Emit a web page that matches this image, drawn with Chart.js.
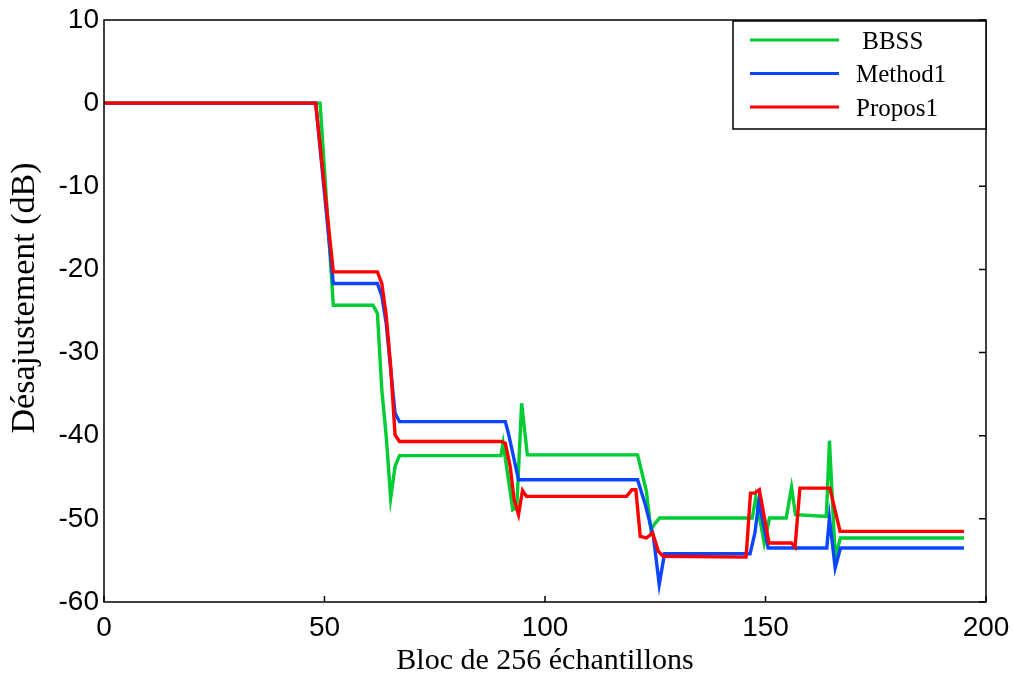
<!DOCTYPE html>
<html>
<head>
    <meta charset="utf-8">
    <title>Désajustement par bloc</title>
    <script src="https://cdn.jsdelivr.net/npm/chart.js"></script>
    <style>
        body { margin: 0; background: #fff; }
        #wrap { width: 1014px; height: 675px; }
    </style>
</head>
<body>
    <div id="wrap"><canvas id="misalignChart"></canvas></div>

    <script>
        // Block index (x) and misalignment in dB (y) for each method
        const bbssX = [0, 49, 52, 61, 62, 63, 64, 65, 66, 67, 90, 90.5, 92.7, 93.6, 94.7, 96, 121, 123, 124, 125, 126, 147, 147.8, 149.7, 150.9, 154.7, 155.9, 156.8, 163.8, 164.5, 165.8, 167, 195];
        const bbssY = [0, 0, -24.3, -24.3, -25.3, -34.5, -40.1, -47.5, -43.7, -42.4, -42.4, -40.9, -48.9, -48.6, -36.1, -42.3, -42.3, -46.7, -51.3, -50.5, -49.9, -49.9, -47.4, -52.9, -49.9, -49.9, -46.2, -49.5, -49.7, -40.6, -54.5, -52.3, -52.3];

        const method1X = [0, 48, 52, 62, 63, 64, 65, 66, 67, 91, 91.7, 94, 121, 122.7, 124.6, 125.9, 127.1, 146.5, 147.6, 148.5, 150.6, 163.9, 164.5, 165.8, 167, 195];
        const method1Y = [0, 0, -21.7, -21.7, -23.2, -26.5, -32, -37.3, -38.3, -38.3, -39.7, -45.3, -45.3, -48.2, -52.2, -57.9, -54.2, -54.2, -51.7, -47.9, -53.5, -53.5, -49.9, -55.9, -53.5, -53.5];

        const proposX = [0, 48, 52, 62, 63, 64, 65, 66, 67, 90, 91, 92.1, 93, 94, 94.9, 95.8, 118.5, 119.7, 120.6, 121.6, 123, 124.4, 125.7, 126.8, 145.6, 146.6, 147.6, 148.6, 150.8, 155.9, 156.7, 157.8, 164.6, 166.9, 195];
        const proposY = [0, 0, -20.3, -20.3, -21.7, -25.6, -31.6, -39.9, -40.7, -40.7, -40.9, -43.7, -47.7, -49.5, -46.6, -47.3, -47.3, -46.5, -46.5, -52.1, -52.3, -51.7, -53.9, -54.5, -54.6, -46.9, -46.9, -46.5, -52.9, -52.9, -53.4, -46.3, -46.3, -51.5, -51.5];

        const xTicks = [0, 50, 100, 150, 200];
        const yTicks = [10, 0, -10, -20, -30, -40, -50, -60];
        const yTitle = 'Désajustement (dB)';

        const toPoints = (xs, ys) => xs.map((v, i) => ({ x: v, y: ys[i] }));

        // Box frame, inward ticks, y title and the boxed legend in the top right corner
        const framePlugin = {
            id: 'frame',
            afterDatasetsDraw(chart) {
                const { ctx, chartArea: a, scales } = chart;
                ctx.save();
                ctx.strokeStyle = '#000';
                ctx.lineWidth = 1.5;
                ctx.strokeRect(a.left, a.top, a.right - a.left, a.bottom - a.top);

                ctx.beginPath();
                xTicks.forEach(v => {
                    const px = scales.x.getPixelForValue(v);
                    ctx.moveTo(px, a.bottom);
                    ctx.lineTo(px, a.bottom - 6);
                });
                yTicks.forEach(v => {
                    const py = scales.y.getPixelForValue(v);
                    ctx.moveTo(a.right, py);
                    ctx.lineTo(a.right - 7, py);
                });
                ctx.stroke();

                // rotated y axis title
                ctx.save();
                ctx.translate(25, 298);
                ctx.rotate(-Math.PI / 2);
                ctx.font = '34px "Liberation Serif", "Times New Roman", serif';
                ctx.textAlign = 'center';
                ctx.textBaseline = 'middle';
                ctx.fillStyle = '#000';
                ctx.fillText(yTitle, 0, 0);
                ctx.restore();

                // legend
                const boxW = 253, boxH = 108;
                const bx = a.right - boxW, by = a.top + 1;
                ctx.fillStyle = '#fff';
                ctx.fillRect(bx, by, boxW, boxH);
                ctx.lineWidth = 1.5;
                ctx.strokeStyle = '#000';
                ctx.strokeRect(bx, by, boxW, boxH);

                ctx.font = '25px "Liberation Serif", "Times New Roman", serif';
                ctx.textBaseline = 'middle';
                ctx.textAlign = 'left';
                chart.data.datasets.forEach((ds, i) => {
                    const rowY = by + 19 + i * 33.5;
                    ctx.strokeStyle = ds.borderColor;
                    ctx.lineWidth = 3.2;
                    ctx.beginPath();
                    ctx.moveTo(bx + 17, rowY);
                    ctx.lineTo(bx + 106, rowY);
                    ctx.stroke();
                    ctx.fillStyle = '#000';
                    ctx.fillText(ds.label, bx + 123, rowY + 2);
                });
                ctx.restore();
            }
        };

        const ctx = document.getElementById('misalignChart').getContext('2d');

        new Chart(ctx, {
            type: 'line',
            data: {
                datasets: [
                    {
                        label: ' BBSS',
                        data: toPoints(bbssX, bbssY),
                        borderColor: '#00cc33',
                        order: 2
                    },
                    {
                        label: 'Method1',
                        data: toPoints(method1X, method1Y),
                        borderColor: '#0a46ff',
                        order: 1
                    },
                    {
                        label: 'Propos1',
                        data: toPoints(proposX, proposY),
                        borderColor: '#ff0000',
                        order: 0
                    }
                ]
            },
            options: {
                responsive: true,
                maintainAspectRatio: false,
                animation: false,
                layout: { padding: { top: 20, right: 28, left: 0, bottom: 0 } },
                elements: {
                    line: { borderWidth: 3.4, tension: 0, fill: false },
                    point: { radius: 0 }
                },
                plugins: {
                    legend: { display: false },
                    tooltip: { enabled: false }
                },
                scales: {
                    x: {
                        type: 'linear',
                        min: 0,
                        max: 200,
                        afterBuildTicks: s => { s.ticks = xTicks.map(v => ({ value: v })); },
                        afterFit: s => {
                            s.height = 73;
                            s.paddingLeft = 0;
                            s.paddingRight = 0;
                        },
                        grid: { display: false, drawTicks: false },
                        border: { display: false },
                        ticks: {
                            color: '#000',
                            padding: 9,
                            maxRotation: 0,
                            font: { family: '"Liberation Sans", Arial, sans-serif', size: 28 }
                        },
                        title: {
                            display: true,
                            text: 'Bloc de 256 échantillons',
                            color: '#000',
                            padding: { top: 0, bottom: -1 },
                            font: { family: '"Liberation Serif", "Times New Roman", serif', size: 30, lineHeight: 1 }
                        }
                    },
                    y: {
                        type: 'linear',
                        min: -60,
                        max: 10,
                        afterBuildTicks: s => { s.ticks = yTicks.map(v => ({ value: v })); },
                        afterFit: s => {
                            s.width = 104;
                            s.paddingTop = 0;
                            s.paddingBottom = 0;
                        },
                        grid: { display: false, drawTicks: false },
                        border: { display: false },
                        ticks: {
                            color: '#000',
                            padding: 5,
                            font: { family: '"Liberation Sans", Arial, sans-serif', size: 28 }
                        }
                    }
                }
            },
            plugins: [framePlugin]
        });
    </script>
</body>
</html>
